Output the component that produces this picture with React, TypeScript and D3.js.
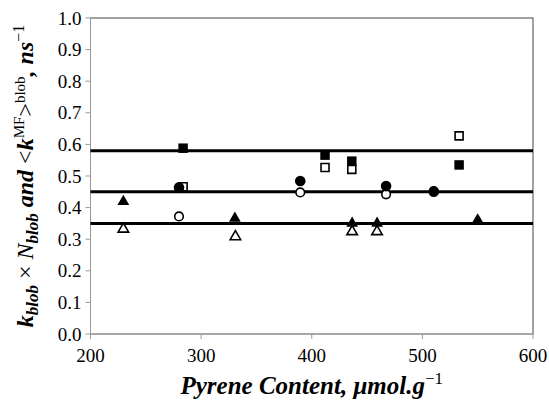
import React from "react";
import * as d3 from "d3";

// values
const filledSquares: [number, number][] = [[283.7, 0.588], [412, 0.566], [436.2, 0.547], [533.2, 0.535]];
const openSquares: [number, number][] = [[283.7, 0.466], [412, 0.527], [436.2, 0.521], [533.2, 0.627]];
const filledCircles: [number, number][] = [[280, 0.464], [389.6, 0.484], [467.2, 0.468], [510.3, 0.45]];
const openCircles: [number, number][] = [[280, 0.372], [389.6, 0.448], [467.2, 0.442], [510.3, 0.452]];
const filledTriangles: [number, number][] = [[229.7, 0.419], [330.5, 0.366], [436.5, 0.35], [459.1, 0.35], [550, 0.361]];
const openTriangles: [number, number][] = [[229.7, 0.332], [331, 0.308], [436.5, 0.324], [459, 0.324]];
const averageLines = [0.58, 0.45, 0.35];

const xTicks = [200, 300, 400, 500, 600];
const yTicks = [0, 0.1, 0.2, 0.3, 0.4, 0.5, 0.6, 0.7, 0.8, 0.9, 1.0];

const width = 549;
const height = 400;
const margin = { top: 18, right: 16, bottom: 66, left: 90.5 };
const serif = "Liberation Serif";

export default function App() {
  const x = d3.scaleLinear().domain([200, 600]).range([margin.left, width - margin.right]);
  const y = d3.scaleLinear().domain([0, 1]).range([height - margin.bottom, margin.top]);
  const sq = d3.symbol().type(d3.symbolSquare).size(90)()!;
  const sqOpen = d3.symbol().type(d3.symbolSquare).size(64)()!;
  const tri = d3.symbol().type(d3.symbolTriangle).size(60)()!;
  const triOpen = d3.symbol().type(d3.symbolTriangle).size(48)()!;

  const x0 = x(200), x1 = x(600), y0 = y(0), y1 = y(1);
  const cy = (y0 + y1) / 2;

  const marks = (data: [number, number][], path: string | null, filled: boolean, circle = false) =>
    data.map(([a, b], i) =>
      circle ? (
        <circle key={i} cx={x(a)} cy={y(b)} r={filled ? 5.3 : 4.3}
          fill={filled ? "#000" : "#fff"} stroke="#000" strokeWidth={filled ? 0 : 1.6} />
      ) : (
        <path key={i} d={path!} transform={`translate(${x(a)},${y(b)})`}
          fill={filled ? "#000" : "#fff"} stroke="#000" strokeWidth={filled ? 0 : 1.6} />
      )
    );

  const txt = { fontFamily: serif };

  return (
    <svg width={width} height={height} style={{ position: "absolute", left: 0, top: 0, background: "#fff", fontFamily: serif }}>
      {/* plot frame */}
      <rect x={x0} y={y1} width={x1 - x0} height={y0 - y1} fill="none" stroke="#444" strokeWidth={1} />
      <line x1={x0} x2={x0} y1={y1} y2={y0} stroke="#999" />
      <line x1={x0} x2={x1} y1={y0} y2={y0} stroke="#aaa" strokeWidth={1.5} />

      {yTicks.map((t) => (
        <g key={t}>
          <line x1={x0 - 5} x2={x0} y1={y(t)} y2={y(t)} stroke="#999" />
          <text x={x0 - 9} y={y(t)} dy="0.35em" textAnchor="end" fontSize={19} style={txt}>{t.toFixed(1)}</text>
        </g>
      ))}
      {xTicks.map((t) => (
        <g key={t}>
          <line x1={x(t)} x2={x(t)} y1={y0} y2={y0 + 5} stroke="#999" />
          <text x={x(t)} y={y0 + 28} textAnchor="middle" fontSize={19} style={txt}>{t}</text>
        </g>
      ))}

      {averageLines.map((v) => (
        <line key={v} x1={x0} x2={x1} y1={y(v)} y2={y(v)} stroke="#000" strokeWidth={3} />
      ))}

      {marks(openCircles, null, false, true)}
      {marks(openTriangles, triOpen, false)}
      {marks(openSquares, sqOpen, false)}
      {marks(filledTriangles, tri, true)}
      {marks(filledCircles, null, true, true)}
      {marks(filledSquares, sq, true)}

      {/* x title */}
      <text x={(x0 + x1) / 2} y={394} textAnchor="middle" fontSize={25} fontWeight="bold" fontStyle="italic" style={txt}>
        Pyrene Content, μmol.g<tspan fontStyle="normal" fontWeight="normal" fontSize={17} dy={-10}>−1</tspan>
      </text>

      {/* y title */}
      <text transform={`translate(33,${cy}) rotate(-90)`} textAnchor="middle" fontSize={24} style={txt}>
        <tspan fontWeight="bold" fontStyle="italic">k</tspan>
        <tspan fontWeight="bold" fontStyle="italic" fontSize={17} dy={5}>blob</tspan>
        <tspan dy={-5}> × </tspan>
        <tspan fontStyle="italic">N</tspan>
        <tspan fontWeight="bold" fontStyle="italic" fontSize={17} dy={5}>blob</tspan>
        <tspan fontWeight="bold" fontStyle="italic" dy={-5}> and </tspan>
        <tspan>&lt;</tspan>
        <tspan fontWeight="bold" fontStyle="italic">k</tspan>
        <tspan fontSize={15} dy={-9}>MF</tspan>
        <tspan dy={9}>&gt;</tspan>
        <tspan fontSize={15} dy={-8}>blob</tspan>
        <tspan fontWeight="bold" fontStyle="italic" dy={8}>, ns</tspan>
        <tspan fontSize={16} dy={-9}>−1</tspan>
      </text>
    </svg>
  );
}
